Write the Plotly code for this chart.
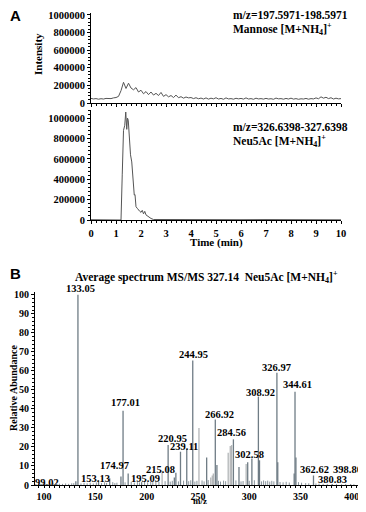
import plotly.graph_objects as go

# chromatogram, mannose channel (every 0.1 min from 0 to 10)
mannose_int = [52000, 46000, 50000, 43000, 49000, 45000, 52000, 47000, 50000, 58000,
               62000, 75000, 140000, 235000, 165000, 225000, 170000, 150000, 175000, 125000,
               145000, 105000, 130000, 95000, 125000, 90000, 110000, 85000, 120000, 75000,
               95000, 70000, 85000, 62000, 90000, 60000, 72000, 55000, 68000, 58000,
               62000, 50000, 60000, 48000, 56000, 45000, 58000, 44000, 55000, 47000,
               60000, 45000, 52000, 42000, 58000, 46000, 50000, 43000, 54000, 47000,
               52000, 44000, 58000, 45000, 50000, 42000, 55000, 46000, 50000, 44000,
               53000, 45000, 49000, 42000, 56000, 47000, 50000, 43000, 52000, 45000,
               55000, 44000, 50000, 42000, 48000, 45000, 52000, 43000, 50000, 46000,
               58000, 48000, 70000, 55000, 65000, 50000, 60000, 45000, 55000, 47000,
               50000]

# chromatogram, Neu5Ac channel
neu_time = [0, 0.3, 0.6, 0.9, 1.1, 1.2, 1.25, 1.3, 1.35, 1.39, 1.43, 1.46, 1.49, 1.53,
            1.58, 1.63, 1.68, 1.73, 1.76, 1.8, 1.85, 1.9, 1.95, 2.0, 2.05, 2.1, 2.15,
            2.2, 2.3, 2.4, 2.5, 3.0, 3.5, 4.0, 5.0, 6.0, 7.0, 8.0, 9.0, 10.0]
neu_int = [3000, 2000, 3000, 2000, 2000, 0, 450000, 880000, 930000, 1060000, 890000,
           1000000, 980000, 800000, 640000, 570000, 420000, 245000, 250000, 130000,
           115000, 95000, 85000, 75000, 95000, 60000, 85000, 50000, 30000, 15000,
           5000, 4000, 5000, 3000, 4000, 3000, 4000, 3000, 3000, 2000]

# MS/MS spectrum, main peaks
dark_mz = [99.02, 131.0, 133.05, 153.13, 164.0, 174.97, 177.01, 182.0, 195.09, 220.95,
           227.0, 228.5, 233.0, 239.11, 244.95, 258.5, 266.92, 268.5, 284.56, 290.0,
           298.5, 302.58, 308.92, 310.0, 326.97, 327.8, 343.8, 344.61, 345.5, 362.62,
           380.83, 398.8]
dark_ab = [0.8, 2, 100, 2.5, 3.5, 4.5, 39, 6, 1.5, 21, 4, 6.5, 17.5, 19, 65.5, 14.5,
           34.5, 10.5, 24, 9.5, 12, 14, 46.5, 13, 59, 12, 6, 49, 14.5, 5, 0.5, 0.4]
light_mz = [215.08, 251.0, 262.5, 264.0, 265.0, 279.5, 281.5, 282.8, 297.0]
light_ab = [7.5, 30, 4, 5, 6, 17, 20.5, 21, 11]
# baseline noise
noise_mz = [95, 97, 101, 104, 106, 109, 112, 115, 118, 121, 124, 127, 129, 136, 139,
            142, 145, 148, 151, 156, 159, 161, 167, 169, 171, 179, 185, 188, 191, 193,
            198, 201, 204, 206, 209, 212, 218, 223, 225, 231, 236, 241, 243, 247, 249,
            254, 256, 260, 270, 272, 275, 277, 287, 292, 294, 300, 305, 312, 314, 316,
            318, 320, 322, 324, 330, 333, 336, 339, 348, 351, 355, 358, 365, 368, 372,
            376, 385, 390, 394, 402]
noise_ab = [0.6, 0.4, 0.7, 0.5, 0.6, 0.8, 0.5, 0.7, 0.6, 0.8, 0.6, 0.9, 1.0, 0.8, 1.1,
            0.9, 1.2, 0.8, 1.3, 1.0, 1.4, 1.1, 1.5, 1.0, 1.2, 1.4, 1.6, 1.2, 1.5, 1.3,
            1.7, 1.4, 1.8, 1.5, 1.9, 1.6, 2.0, 1.8, 2.2, 1.9, 2.3, 2.0, 2.5, 1.8, 2.2,
            2.4, 1.9, 2.6, 2.2, 1.8, 2.3, 2.0, 2.4, 1.9, 2.1, 2.2, 2.5, 1.9, 2.4, 2.0,
            2.3, 1.8, 2.2, 1.9, 1.6, 1.4, 1.7, 1.3, 1.5, 1.2, 1.0, 0.9, 0.8, 0.7, 0.6,
            0.5, 0.5, 0.4, 0.5, 0.4]

label_text = ["177.01", "244.95", "326.97", "344.61", "308.92", "266.92",
              "284.56", "220.95", "239.11", "302.58", "174.97", "215.08", "153.13",
              "99.02", "195.09", "362.62", "398.80", "380.83"]
label_x = [179.8, 246, 326.6, 347, 311.3, 271.4, 282.8, 225, 236.3, 300, 169,
           213.6, 149.7, 102.6, 199, 364, 395.5, 381.4]
label_y = [43.2, 68.4, 61.7, 52.7, 48.4, 37.1, 27.7, 24.6, 20.2, 15.9, 10.3,
           8.2, 3.6, 1.5, 3.6, 8.2, 8.2, 3]

# the page puts the figure 8px in from the top-left corner
W, H, OFF = 358, 496, 8


def sticks(mz, ab):
    xs, ys = [], []
    for m, a in zip(mz, ab):
        xs += [m, m, None]
        ys += [0, a, None]
    return xs, ys


def px(x):
    return (x - OFF) / W


def py(y):
    return 1 - (y - OFF) / H


fig = go.Figure()
fig.add_trace(go.Scatter(y=mannose_int, x0=0, dx=0.1, mode="lines",
                         line=dict(color="#555555", width=1), xaxis="x", yaxis="y"))
fig.add_trace(go.Scatter(x=neu_time, y=neu_int, mode="lines", cliponaxis=False,
                         line=dict(color="#555555", width=1), xaxis="x2", yaxis="y2"))
for mz, ab, col, w in [(noise_mz, noise_ab, "#8a969e", 1), (light_mz, light_ab, "#b3b6b8", 1.3),
                       (dark_mz, dark_ab, "#6f7c85", 1.3)]:
    xs, ys = sticks(mz, ab)
    fig.add_trace(go.Scatter(x=xs, y=ys, mode="lines", line=dict(color=col, width=w),
                             xaxis="x3", yaxis="y3"))

ax = dict(showline=True, linecolor="black", linewidth=1, ticks="outside", ticklen=3,
          tickcolor="black", showgrid=False, zeroline=False, automargin=False,
          ticklabeloverflow="allow",
          minor=dict(ticks="outside", ticklen=2, tickcolor="black"))

fig.update_layout(
    width=W, height=H, showlegend=False,
    margin=dict(l=0, r=0, t=0, b=0),
    plot_bgcolor="white", paper_bgcolor="white",
    font=dict(family="Liberation Serif", size=10.5, color="black", weight="bold"),
    xaxis=dict(ax, domain=[px(91), px(341)], range=[0, 10], dtick=1, showticklabels=False,
               anchor="y", minor=dict(ax["minor"], dtick=0.2)),
    yaxis=dict(ax, domain=[py(103), py(13.2)], range=[0, 1020000], dtick=200000, anchor="x",
               tickformat="d", minor=dict(ax["minor"], dtick=40000)),
    xaxis2=dict(ax, domain=[px(91), px(341)], range=[0, 10], dtick=1, anchor="y2",
                minor=dict(ax["minor"], dtick=0.2)),
    yaxis2=dict(ax, domain=[py(220), py(110)], range=[0, 1080000],
                tickvals=[0, 200000, 400000, 600000, 800000, 1000000],
                anchor="x2", tickformat="d", minor=dict(ax["minor"], dtick=40000)),
    xaxis3=dict(ax, domain=[px(35), px(358)], range=[91.2, 406], dtick=50, anchor="y3",
                ticklen=2, tickfont=dict(size=10), minor=dict(ax["minor"], dtick=5)),
    yaxis3=dict(ax, domain=[py(485), py(292)], range=[0, 101.5], dtick=10, anchor="x3",
                tickfont=dict(size=10), minor=dict(ax["minor"], dtick=2)),
)

ann = [
    dict(x=px(8), y=py(16), text="A", font=dict(family="Liberation Sans", size=15)),
    dict(x=px(8), y=py(273), text="B", font=dict(family="Liberation Sans", size=15)),
    dict(x=px(231), y=py(15), text="m/z=197.5971-198.5971", font=dict(size=11.5)),
    dict(x=px(231), y=py(29), text="Mannose [M+NH<sub>4</sub>]<sup>+</sup>", font=dict(size=11.5)),
    dict(x=px(231), y=py(127), text="m/z=326.6398-327.6398", font=dict(size=11.5)),
    dict(x=px(231), y=py(141), text="Neu5Ac [M+NH<sub>4</sub>]<sup>+</sup>", font=dict(size=11.5)),
]
for a in ann:
    fig.add_annotation(xref="paper", yref="paper", xanchor="left", yanchor="middle",
                       showarrow=False, **a)

axis_titles = [
    dict(x=px(216), y=py(242), text="Time (min)", font=dict(size=11)),
    dict(x=px(38), y=py(54), text="Intensity", textangle=-90, font=dict(size=11)),
    dict(x=px(206), y=py(277),
         text="Average spectrum MS/MS 327.14  Neu5Ac [M+NH<sub>4</sub>]<sup>+</sup>",
         font=dict(size=11.5)),
    dict(x=px(200), y=py(500.5), text="m/z", font=dict(size=9)),
    dict(x=px(13), y=py(388), text="Relative Abundance", textangle=-90, font=dict(size=10)),
]
for a in axis_titles:
    fig.add_annotation(xref="paper", yref="paper", xanchor="center", yanchor="middle",
                       showarrow=False, **a)

# base peak label sits above the plotting area
fig.add_annotation(xref="x3", yref="paper", x=135.7, y=py(288), text="133.05",
                   xanchor="center", yanchor="middle", showarrow=False, font=dict(size=10.5))
for t, x, y in zip(label_text, label_x, label_y):
    fig.add_annotation(xref="x3", yref="y3", x=x, y=y, text=t, showarrow=False,
                       xanchor="center", yanchor="middle", font=dict(size=10.5))

fig.write_html("out.html")
